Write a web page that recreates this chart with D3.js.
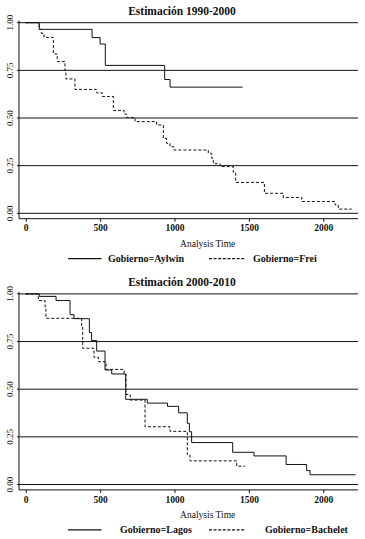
<!DOCTYPE html>
<html><head><meta charset="utf-8">
<script src="https://cdn.jsdelivr.net/npm/d3@7"></script>
<style>
html,body{margin:0;padding:0;background:#fff;}
svg{display:block;}
text{font-family:"Liberation Serif","DejaVu Serif",serif;fill:#111;}
</style></head>
<body>
<script>
// ---- Data ----
const titles = ["Estimación 1990-2000", "Estimación 2000-2010"];
const xTicks = [0, 500, 1000, 1500, 2000];
const yTicks = [0, 0.25, 0.5, 0.75, 1];
const yTickLabels = ["0.00", "0.25", "0.50", "0.75", "1.00"];
const xLabel = "Analysis Time";

// Panel 1
const aylwinLabel = "Gobierno=Aylwin";
const aylwinT = [0, 91, 446, 500, 535, 934, 970, 1458];
const aylwinS = [1, 0.965, 0.922, 0.888, 0.776, 0.702, 0.662, 0.662];

const freiLabel = "Gobierno=Frei";
const freiT = [0, 91, 105, 123, 186, 212, 264, 270, 331, 477, 515, 589, 661, 679, 735, 880, 925, 947, 970, 997, 1227, 1250, 1261, 1306, 1395, 1411, 1604, 1731, 1855, 2079, 2101, 2191];
const freiS = [1, 0.965, 0.944, 0.923, 0.836, 0.796, 0.752, 0.705, 0.650, 0.632, 0.613, 0.540, 0.521, 0.502, 0.481, 0.463, 0.393, 0.367, 0.349, 0.332, 0.315, 0.289, 0.260, 0.245, 0.215, 0.162, 0.105, 0.083, 0.062, 0.044, 0.022, 0.022];

// Panel 2
const lagosLabel = "Gobierno=Lagos";
const lagosT = [0, 91, 204, 298, 325, 428, 443, 477, 533, 578, 672, 817, 953, 1028, 1086, 1100, 1115, 1391, 1534, 1750, 1888, 1911, 2218];
const lagosS = [1, 0.987, 0.965, 0.891, 0.870, 0.797, 0.755, 0.700, 0.601, 0.580, 0.447, 0.427, 0.410, 0.376, 0.321, 0.277, 0.220, 0.169, 0.150, 0.105, 0.073, 0.051, 0.051];

const bacheletLabel = "Gobierno=Bachelet";
const bacheletT = [0, 85, 130, 136, 376, 383, 459, 490, 540, 661, 674, 702, 802, 970, 1086, 1104, 1418, 1474];
const bacheletS = [1, 0.965, 0.933, 0.872, 0.828, 0.715, 0.667, 0.644, 0.604, 0.578, 0.473, 0.443, 0.303, 0.279, 0.157, 0.124, 0.096, 0.096];

// ---- Drawing ----
const W = 365, H = 539;
const svg = d3.select("body").append("svg").attr("width", W).attr("height", H);

const x = d3.scaleLinear().domain([0, 2000]).range([25.7, 323.3]);
const axisLeft = 19, axisRight = 358;
const ink = "#111";

function zip(t, s) { return t.map((v, i) => ({t: v, s: s[i]})); }

function panel(offset, title, s1, s2) {
  const g = svg.append("g").attr("transform", `translate(0,${offset})`);
  const y = d3.scaleLinear().domain([0, 1]).range([213.3, 22.7]);
  const axisY = 218.7;

  g.append("text").attr("x", 182).attr("y", 15).attr("text-anchor", "middle")
    .attr("font-size", "11.5px").attr("font-weight", "bold").text(title);

  // gridlines
  g.selectAll("line.grid").data(yTicks).join("line").attr("class", "grid")
    .attr("x1", axisLeft - 2).attr("x2", axisRight)
    .attr("y1", d => y(d)).attr("y2", d => y(d))
    .attr("stroke", ink).attr("stroke-width", 1);

  // y axis line
  g.append("line").attr("x1", axisLeft).attr("x2", axisLeft)
    .attr("y1", y(1) - 2).attr("y2", axisY).attr("stroke", ink).attr("stroke-width", 1);

  // y tick labels
  g.selectAll("text.yl").data(yTicks).join("text").attr("class", "yl")
    .attr("transform", d => `translate(12.5,${y(d)}) rotate(-90)`)
    .attr("text-anchor", "middle").attr("font-size", "9px")
    .text((d, i) => yTickLabels[i]);

  // x axis
  const xa = g.append("g").attr("transform", `translate(0,${axisY})`);
  xa.append("line").attr("x1", axisLeft).attr("x2", axisRight).attr("y1", 0).attr("y2", 0)
    .attr("stroke", ink).attr("stroke-width", 1);
  xa.call(d3.axisBottom(x).tickValues(xTicks).tickSize(3).tickPadding(3).tickFormat(d3.format("d")))
    .call(a => a.select(".domain").remove())
    .call(a => a.selectAll("line").attr("stroke", ink))
    .call(a => a.selectAll("text").attr("font-size", "9.5px").attr("font-weight", "bold")
      .attr("font-family", '"Liberation Serif",serif').attr("fill", ink));

  g.append("text").attr("x", 207.7).attr("y", 246.7).attr("text-anchor", "middle")
    .attr("font-size", "9.5px").text(xLabel);

  const line = d3.line().x(d => x(d.t)).y(d => y(d.s)).curve(d3.curveStepAfter);
  g.append("path").datum(s1.data).attr("d", line).attr("fill", "none")
    .attr("stroke", ink).attr("stroke-width", 1);
  g.append("path").datum(s2.data).attr("d", line).attr("fill", "none")
    .attr("stroke", ink).attr("stroke-width", 1).attr("stroke-dasharray", "3,2");

  // legend
  const ly = 258.7;
  g.append("line").attr("x1", 68).attr("x2", 101.5).attr("y1", ly).attr("y2", ly)
    .attr("stroke", ink).attr("stroke-width", 1.2);
  g.append("text").attr("x", s1.lx).attr("y", ly + 3.3).attr("font-size", "10px")
    .attr("font-weight", "bold").text(s1.label);
  g.append("line").attr("x1", 209).attr("x2", 245).attr("y1", ly).attr("y2", ly)
    .attr("stroke", ink).attr("stroke-width", 1.2).attr("stroke-dasharray", "3,1.6");
  g.append("text").attr("x", s2.lx).attr("y", ly + 3.3).attr("font-size", "10px")
    .attr("font-weight", "bold").text(s2.label);
}

panel(0, titles[0],
  {data: zip(aylwinT, aylwinS), label: aylwinLabel, lx: 108},
  {data: zip(freiT, freiS), label: freiLabel, lx: 253});
panel(271.2, titles[1],
  {data: zip(lagosT, lagosS), label: lagosLabel, lx: 120},
  {data: zip(bacheletT, bacheletS), label: bacheletLabel, lx: 265});
</script>
</body></html>
